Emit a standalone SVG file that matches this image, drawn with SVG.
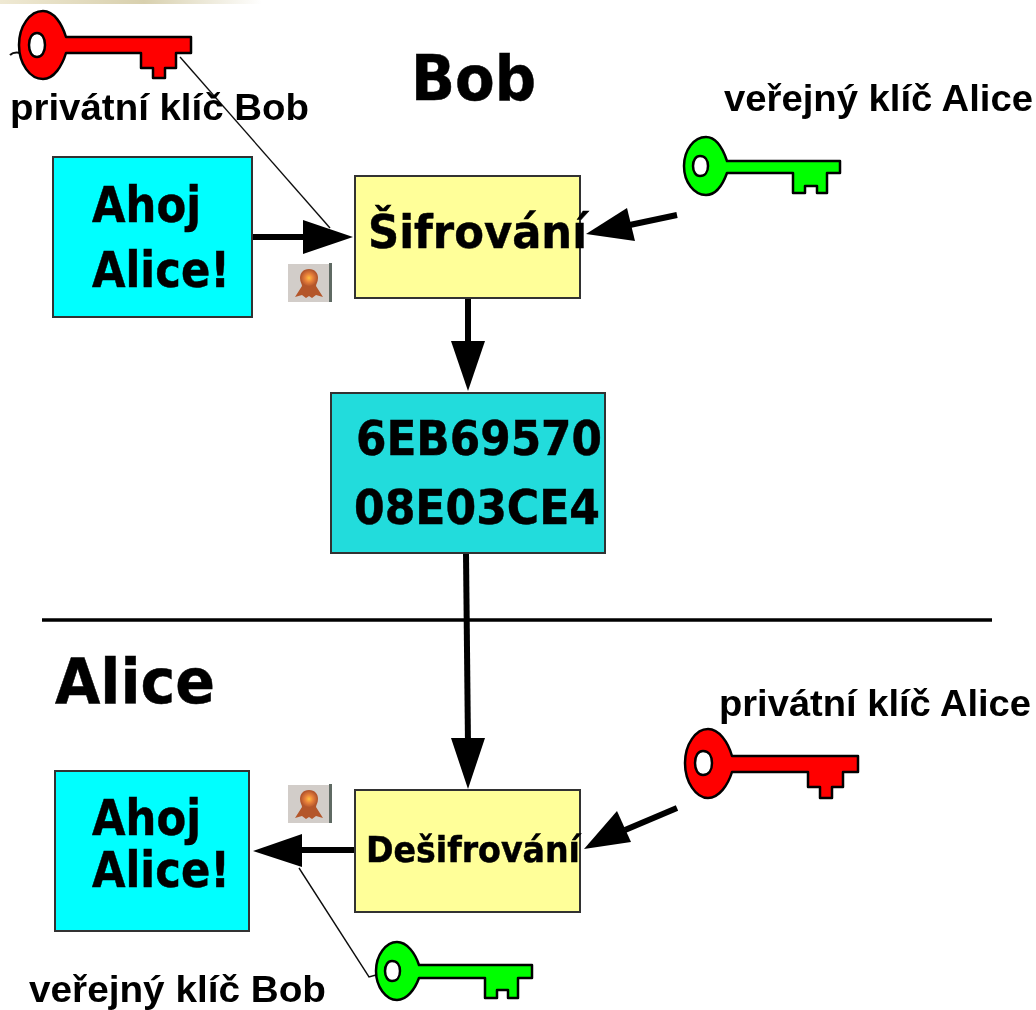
<svg xmlns="http://www.w3.org/2000/svg" width="1036" height="1010" viewBox="0 0 1036 1010">
<style>
.d{font-family:"DejaVu Sans",sans-serif;font-weight:bold;fill:#000;stroke:#000;stroke-width:0.5}
.l{font-family:"Liberation Sans",Arial,sans-serif;font-weight:bold;font-size:36px;fill:#000}
.box{stroke:#333;stroke-width:2}
.keyo{stroke:#000;stroke-width:2.5;stroke-linejoin:round}
.thick{stroke:#000;stroke-width:6;fill:none}
.thin{stroke:#111;stroke-width:1.4;fill:none}
.head{fill:#000}
.red{fill:#f00}.green{fill:#0f0}
</style>
<defs>
<filter id="soft" x="0" y="0" width="100%" height="100%"><feGaussianBlur stdDeviation="0.7"/></filter>
<linearGradient id="strip" x1="0" x2="1" y1="0" y2="0"><stop offset="0" stop-color="#efe9d3"/><stop offset="0.55" stop-color="#d8d0ae"/><stop offset="1" stop-color="#fff"/></linearGradient>
<radialGradient id="gold"><stop offset="0" stop-color="#ffc040"/><stop offset="0.5" stop-color="#e8803a"/><stop offset="1" stop-color="#b85a2e"/></radialGradient>
<g id="medal">
<rect x="0" y="0" width="41" height="38" fill="#d2cdc9"/><rect x="41" y="-1" width="3" height="39" fill="#5f6b64"/>
<path d="M21 5C27 5 30 9 30 14C30 18 28 20 28 22L35 33L28 31L24 34L21 32L18 34L14 31L7 33L14 22C14 20 12 18 12 14C12 9 15 5 21 5Z" fill="#b4562c"/>
<circle cx="21" cy="14" r="8" fill="url(#gold)"/>
</g>
</defs>
<rect width="1036" height="1010" fill="#fff"/>
<g id="diagram" filter="url(#soft)">
<rect id="strip-top" x="0" y="0" width="262" height="4" fill="url(#strip)"/>
<g id="connectors">
<path class="thick" d="M253 237H308"/><path class="head" d="M303 220L353 237L303 254Z"/>
<path class="thick" d="M677 215L625 226"/><path class="head" d="M586 234L627 208L635 241Z"/>
<path class="thick" d="M468 298L468 345"/><path class="head" d="M451 341H485L468 391Z"/>
<path class="thick" d="M466 553L468 745"/><path class="head" d="M451 738H485L468 789Z"/>
<path class="thick" d="M677 808L625 830"/><path class="head" d="M584 849L617 811L631 842Z"/>
<path class="thick" d="M355 850H298"/><path class="head" d="M302 834V867L253 851Z"/>
<path class="thin" d="M180 57L330 228"/>
<path class="thin" d="M299 868L369 977L376 975"/>
<path class="thick" d="M42 620H992" style="stroke-width:3.5"/>
<path class="thin" d="M10 55C13 52 17 52 21 53" style="stroke-width:2"/>
</g>
<g id="bob-title"><text class="d" x="411" y="100" font-size="62" textLength="125" lengthAdjust="spacingAndGlyphs">Bob</text></g>
<g id="alice-title"><text class="d" x="55" y="703" font-size="62" textLength="160" lengthAdjust="spacingAndGlyphs">Alice</text></g>
<g id="private-key-bob">
<path class="keyo red" fill-rule="evenodd" d="M19 45C19 26 30 11 43 11C54 11 62 24 66 37H191V53H176V68H165V78H153V68H141V53H66C62 66 54 79 43 79C30 79 19 64 19 45ZM29 45C29 52 32 57 37 57C42 57 45 52 45 45C45 38 42 33 37 33C32 33 29 38 29 45Z"/>
<text class="l" x="10" y="120" textLength="299" lengthAdjust="spacingAndGlyphs">privátní klíč Bob</text>
</g>
<g id="public-key-alice">
<path class="keyo green" fill-rule="evenodd" d="M684 166C684 150 694 137 706 137C716 137 723 149 727 161H840V173H827V193H817V186H805V193H793V173H727C723 184 716 195 706 195C694 195 684 182 684 166ZM693 166C693 172 696 176 700 176C705 176 708 172 708 166C708 160 705 156 700 156C696 156 693 160 693 166Z"/>
<text class="l" x="724" y="111" textLength="309" lengthAdjust="spacingAndGlyphs">veřejný klíč Alice</text>
</g>
<g id="message-bob"><rect class="box" x="53" y="157" width="199" height="160" fill="#0ff"/>
<text class="d" x="92" y="222" font-size="49" textLength="109" lengthAdjust="spacingAndGlyphs">Ahoj</text>
<text class="d" x="92" y="287" font-size="49" textLength="138" lengthAdjust="spacingAndGlyphs">Alice!</text></g>
<g id="medal-bob"><use href="#medal" x="288" y="264"/></g>
<g id="encrypt"><rect class="box" x="355" y="176" width="225" height="122" fill="#ffff99"/>
<text class="d" x="368" y="248" font-size="47" textLength="219" lengthAdjust="spacingAndGlyphs">Šifrování</text></g>
<g id="cipher"><rect class="box" x="331" y="393" width="274" height="160" fill="#20dcdc"/>
<text class="d" x="356" y="455" font-size="48" textLength="246" lengthAdjust="spacingAndGlyphs">6EB69570</text>
<text class="d" x="354" y="524" font-size="48" textLength="246" lengthAdjust="spacingAndGlyphs">08E03CE4</text></g>
<g id="private-key-alice">
<path class="keyo red" fill-rule="evenodd" d="M685 763C685 744 696 729 708 729C719 729 728 742 732 756H858V772H843V787H832V798H820V787H808V772H732C728 785 719 798 708 798C696 798 685 782 685 763ZM695 763C695 770 698 775 703 775C709 775 712 770 712 763C712 756 709 751 703 751C698 751 695 756 695 763Z"/>
<text class="l" x="719" y="716" textLength="312" lengthAdjust="spacingAndGlyphs">privátní klíč Alice</text>
</g>
<g id="message-alice"><rect class="box" x="55" y="771" width="194" height="160" fill="#0ff"/>
<text class="d" x="92" y="835" font-size="49" textLength="109" lengthAdjust="spacingAndGlyphs">Ahoj</text>
<text class="d" x="92" y="887" font-size="49" textLength="138" lengthAdjust="spacingAndGlyphs">Alice!</text></g>
<g id="medal-alice"><use href="#medal" x="288" y="785"/></g>
<g id="decrypt"><rect class="box" x="355" y="790" width="225" height="122" fill="#ffff99"/>
<text class="d" x="366" y="862" font-size="35" textLength="214" lengthAdjust="spacingAndGlyphs">Dešifrování</text></g>
<g id="public-key-bob">
<path class="keyo green" fill-rule="evenodd" d="M376 971C376 955 386 942 397 942C407 942 415 953 419 965H532V978H518V998H508V990H497V998H485V978H419C415 989 407 1000 397 1000C386 1000 376 987 376 971ZM385 971C385 977 388 981 392 981C397 981 400 977 400 971C400 965 397 961 392 961C388 961 385 965 385 971Z"/>
<text class="l" x="29" y="1002" textLength="297" lengthAdjust="spacingAndGlyphs">veřejný klíč Bob</text>
</g>
</g>
</svg>
